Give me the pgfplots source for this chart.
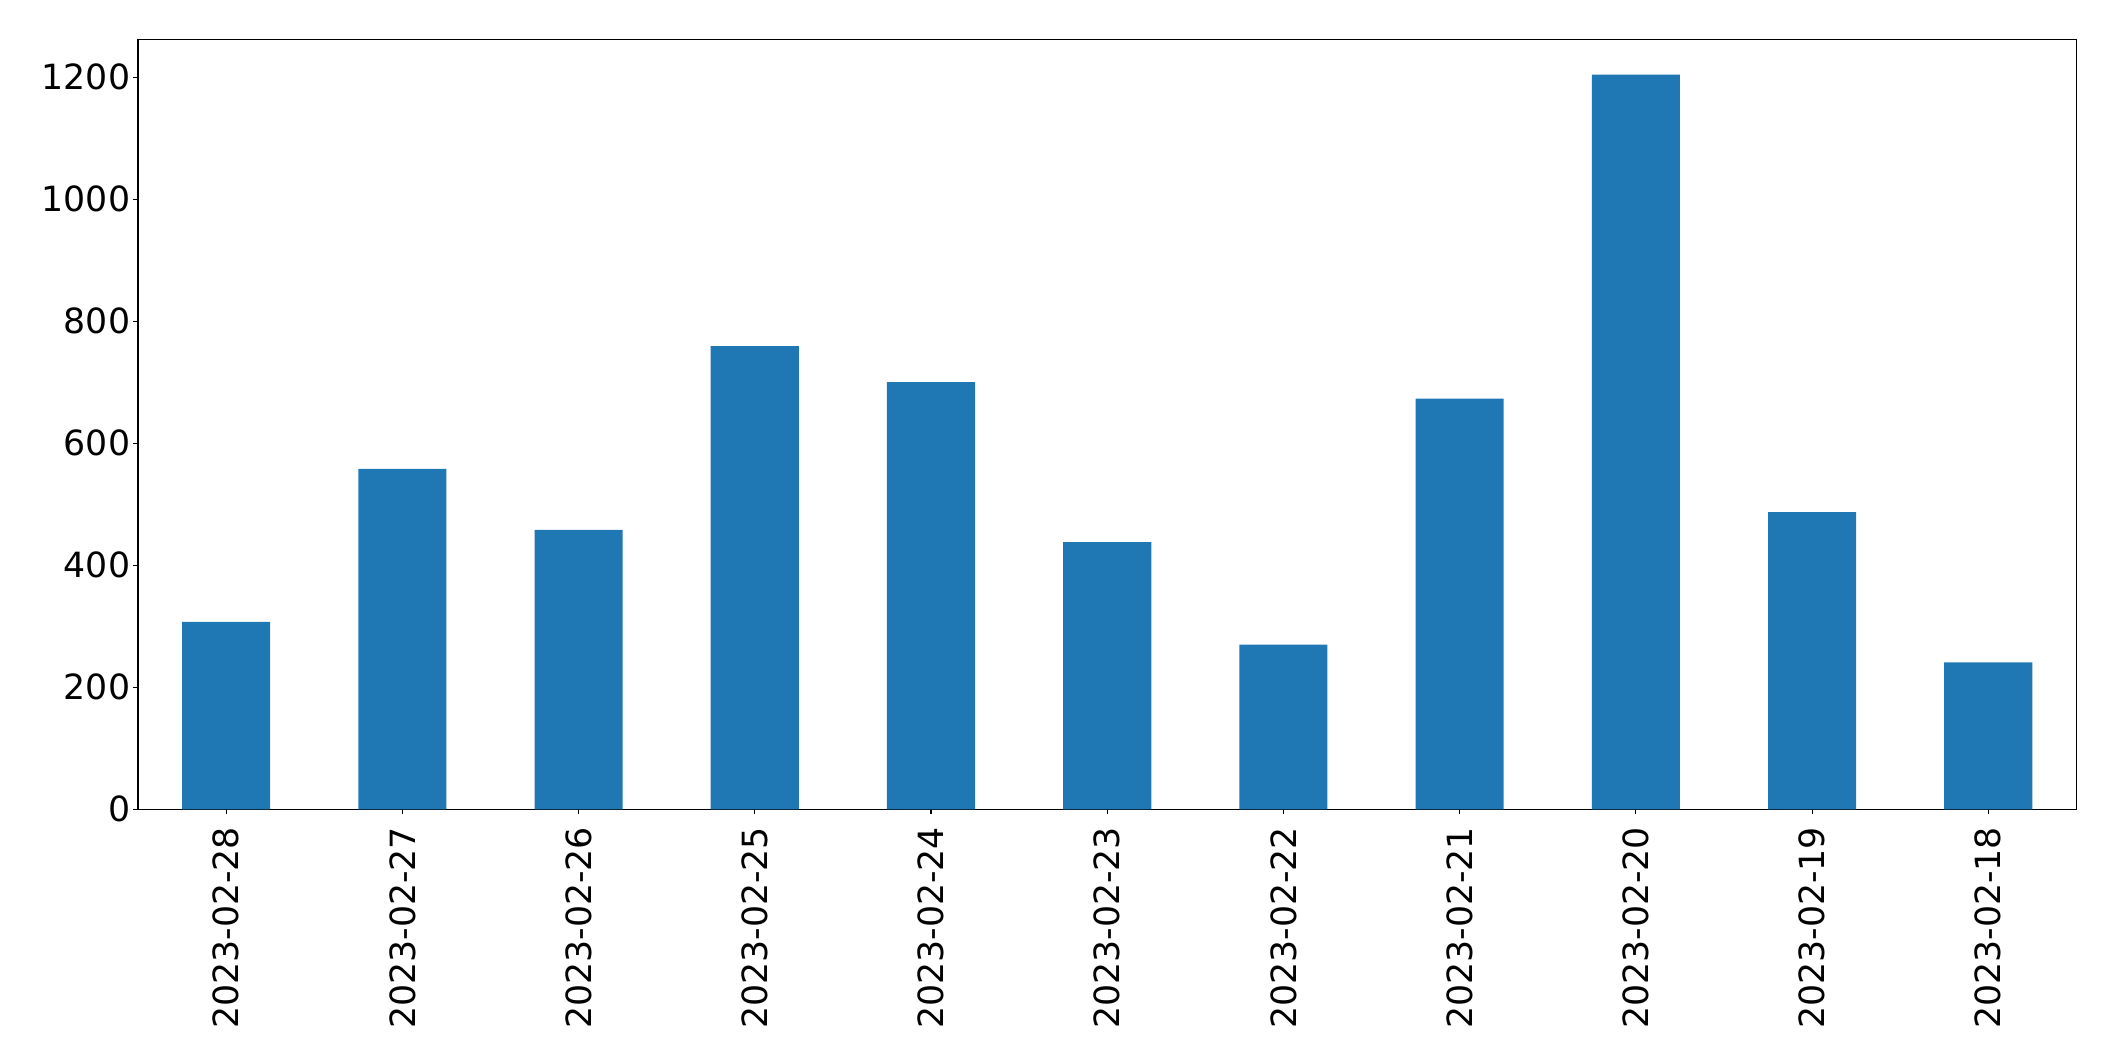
\documentclass[border=0pt]{standalone}
\usepackage{fontspec}
\setmainfont{DejaVu Sans}
\usepackage{pgfplots}
\pgfplotsset{compat=1.18}
\definecolor{mplblue}{HTML}{1F77B4}
\begin{document}
\fontsize{25}{30}\selectfont
\begin{tikzpicture}
\path[use as bounding box] (-99.4pt,-181.2pt) rectangle (1423.4pt,582.7pt);
\begin{axis}[
  at={(0,0)}, anchor=south west,
  scale only axis, width=1395.6pt, height=554.4pt,
  xmin=-0.5, xmax=10.5, ymin=0, ymax=1262,
  xtick={0,...,10},
  xticklabels={2023-02-28,2023-02-27,2023-02-26,2023-02-25,2023-02-24,2023-02-23,2023-02-22,2023-02-21,2023-02-20,2023-02-19,2023-02-18},
  xticklabel style={rotate=90, anchor=east, inner sep=0pt},
  ytick={0,200,400,600,800,1000,1200},
  yticklabel style={inner sep=0pt, xshift=-2pt},
  xticklabel shift=9pt,
  /pgf/number format/assume math mode=true,
  /pgf/number format/1000 sep={},
  tick align=outside, tick pos=left,
  major tick length=3.5pt,
  every tick/.style={black, line width=0.8pt},
  axis line style={line width=0.8pt},
  ticklabel style={font=\fontsize{25}{30}\selectfont},
]
\addplot[ybar, bar width=0.5, fill=mplblue, draw=none, bar shift=0pt] coordinates {
(0,307) (1,558) (2,458) (3,759) (4,700) (5,438) (6,270) (7,673) (8,1204) (9,487) (10,241)
};
\end{axis}
\end{tikzpicture}
\end{document}
